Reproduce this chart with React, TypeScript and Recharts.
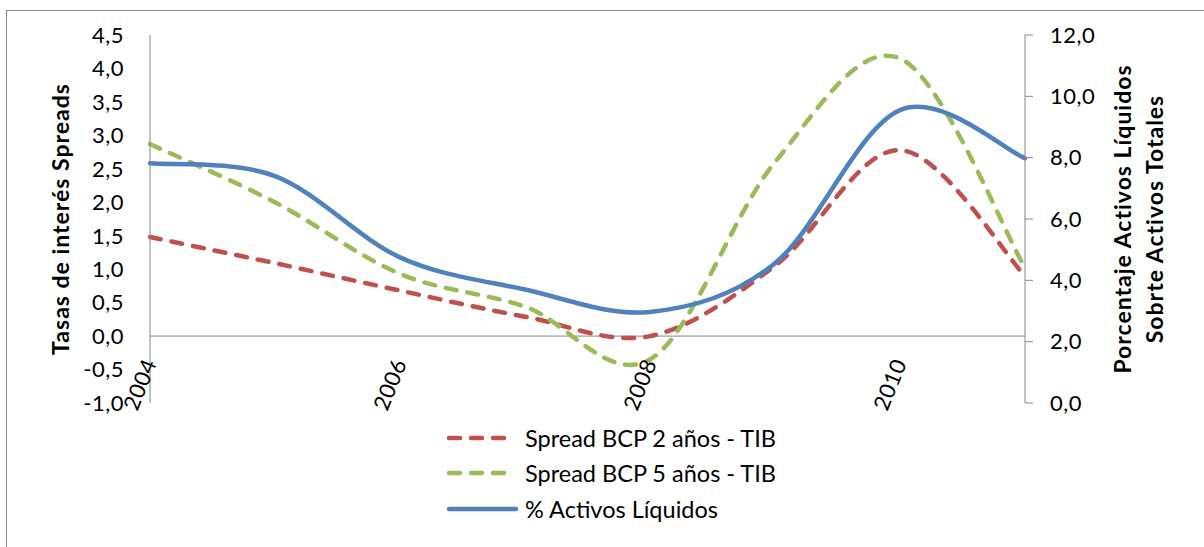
import React from 'react';
import { LineChart, Line, XAxis, YAxis, ReferenceLine } from 'recharts';

const years = ['2004', '2005', '2006', '2007', '2008', '2009', '2010', '2011'];
const spread2y = [1.48, 1.09, 0.68, 0.29, 0.0, 1.05, 2.78, 0.9];
const spread5y = [2.87, 2.0, 0.93, 0.44, -0.35, 2.6, 4.15, 1.02];
const liquidPct = [7.82, 7.4, 4.75, 3.7, 2.97, 4.56, 9.55, 7.98];

const leftTicks = [-1, -0.5, 0, 0.5, 1, 1.5, 2, 2.5, 3, 3.5, 4, 4.5];
const rightTicks = [0, 2, 4, 6, 8, 10, 12];

const RED = '#C0504D';
const GREEN = '#9BBB59';
const BLUE = '#4F81BD';
const AXIS = '#868686';
const FONT = 'Lato, "Open Sans", sans-serif';

const data = years.map((y, i) => ({
  year: y,
  s2: spread2y[i],
  s5: spread5y[i],
  liq: liquidPct[i],
}));

const fmt = (v: number) => v.toFixed(1).replace('.', ',');

// excel-ish smoothed line (catmull-rom through every point)
const excelCurve = (ctx: any) => {
  let pts: number[][] = [];
  return {
    areaStart() {},
    areaEnd() {},
    lineStart() { pts = []; },
    point(x: number, y: number) { pts.push([+x, +y]); },
    lineEnd() {
      if (!pts.length) return;
      ctx.moveTo(pts[0][0], pts[0][1]);
      const n = pts.length;
      for (let i = 0; i < n - 1; i++) {
        const p0 = pts[Math.max(i - 1, 0)];
        const p1 = pts[i];
        const p2 = pts[i + 1];
        const p3 = pts[Math.min(i + 2, n - 1)];
        ctx.bezierCurveTo(
          p1[0] + (p2[0] - p0[0]) / 6, p1[1] + (p2[1] - p0[1]) / 6,
          p2[0] - (p3[0] - p1[0]) / 6, p2[1] - (p3[1] - p1[1]) / 6,
          p2[0], p2[1],
        );
      }
    },
  };
};

const YearTick = ({ x, y, payload }: any) => (
  <g transform={`translate(${x},${y - 43})`}>
    <text textAnchor="end" transform="rotate(-68)" dy="0.35em" fontSize={22} letterSpacing={0.5} fill="#000" fontFamily={FONT}>
      {payload.value}
    </text>
  </g>
);

const legendItems = [
  { label: 'Spread BCP 2 años - TIB', color: RED, dashed: true },
  { label: 'Spread BCP 5 años - TIB', color: GREEN, dashed: true },
  { label: '% Activos Líquidos', color: BLUE, dashed: false },
];

const titleProps = { fontSize: 23, fontWeight: 'bold', fontFamily: FONT, letterSpacing: 1 };

export default function App() {
  return (
    <div style={{ position: 'absolute', left: 0, top: 0, width: 1204, height: 547, overflow: 'hidden', background: '#fff' }}>
      <div style={{ position: 'absolute', left: 6, top: 10, width: 1400, height: 800, border: '1px solid #8a8a8a' }} />
      <div style={{ position: 'absolute', left: 0, top: 0 }}>
        <LineChart width={1204} height={547} data={data} margin={{ top: 35, right: 0, left: 0, bottom: 0 }}>
          <XAxis
            dataKey="year"
            height={144}
            interval={1}
            axisLine={false}
            tickLine={false}
            tickSize={0}
            tickMargin={0}
            tick={<YearTick />}
          />
          <YAxis
            yAxisId="left"
            width={150}
            domain={[-1, 4.5]}
            ticks={leftTicks}
            tickFormatter={fmt}
            axisLine={{ stroke: AXIS }}
            tickLine={false}
            tickSize={0}
            tickMargin={26}
            tick={{ fill: '#000', fontSize: 22, fontFamily: FONT, letterSpacing: 0.5 }}
            label={{
              content: ({ viewBox }: any) => {
                const cx = viewBox.x + 60;
                const cy = viewBox.y + viewBox.height / 2;
                return (
                  <text x={cx} y={cy} transform={`rotate(-90 ${cx} ${cy})`} textAnchor="middle" dominantBaseline="central" {...titleProps}>
                    Tasas de interés Spreads
                  </text>
                );
              },
            }}
          />
          <YAxis
            yAxisId="right"
            orientation="right"
            width={179}
            domain={[0, 12]}
            ticks={rightTicks}
            tickFormatter={fmt}
            axisLine={{ stroke: AXIS }}
            tickLine={{ stroke: AXIS }}
            tickSize={8}
            tickMargin={17}
            tick={{ fill: '#000', fontSize: 22, fontFamily: FONT, letterSpacing: 0.5 }}
            label={{
              content: ({ viewBox }: any) => {
                const cy = viewBox.y + viewBox.height / 2;
                return (
                  <g {...titleProps}>
                    <text x={viewBox.x + 97} y={cy} transform={`rotate(-90 ${viewBox.x + 97} ${cy})`} textAnchor="middle" dominantBaseline="central">
                      Porcentaje Activos Líquidos
                    </text>
                    <text x={viewBox.x + 129} y={cy} transform={`rotate(-90 ${viewBox.x + 129} ${cy})`} textAnchor="middle" dominantBaseline="central">
                      Sobrte Activos Totales
                    </text>
                  </g>
                );
              },
            }}
          />
          <ReferenceLine yAxisId="left" y={0} stroke={AXIS} strokeWidth={1} />
          <Line yAxisId="left" dataKey="s2" type={excelCurve as any} stroke={RED} strokeWidth={4.5} strokeDasharray="11 11" strokeLinecap="round" dot={false} isAnimationActive={false} />
          <Line yAxisId="left" dataKey="s5" type={excelCurve as any} stroke={GREEN} strokeWidth={4.5} strokeDasharray="11 11" strokeLinecap="round" dot={false} isAnimationActive={false} />
          <Line yAxisId="right" dataKey="liq" type={excelCurve as any} stroke={BLUE} strokeWidth={4.5} strokeLinecap="round" dot={false} isAnimationActive={false} />
        </LineChart>
      </div>
      <div style={{ position: 'absolute', left: 445, top: 420, fontFamily: FONT, fontSize: 23.5 }}>
        {legendItems.map(it => (
          <div key={it.label} style={{ display: 'flex', alignItems: 'center', height: 35.5 }}>
            <svg width={80} height={12}>
              <line
                x1={4}
                x2={it.dashed ? 62 : 71}
                y1={6}
                y2={6}
                stroke={it.color}
                strokeWidth={4.5}
                strokeLinecap="round"
                strokeDasharray={it.dashed ? '11 11' : undefined}
              />
            </svg>
            <span>{it.label}</span>
          </div>
        ))}
      </div>
    </div>
  );
}
